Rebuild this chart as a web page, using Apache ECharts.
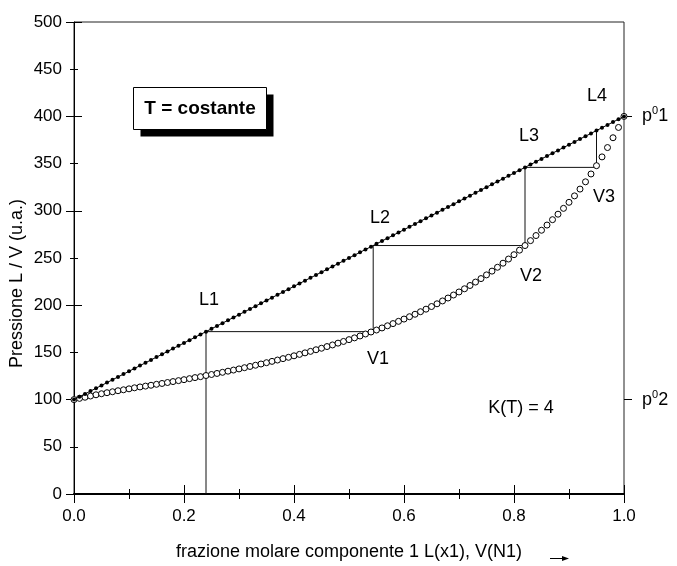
<!DOCTYPE html>
<html>
<head>
<meta charset="utf-8">
<script src="https://cdn.jsdelivr.net/npm/echarts@6/dist/echarts.min.js"></script>
<style>html,body{margin:0;padding:0;background:#fff}#c{width:677px;height:566px}</style>
</head>
<body>
<div id="c"></div>
<script>
// molar fraction grid (x axis values)
const xFrac = [0,0.01,0.02,0.03,0.04,0.05,0.06,0.07,0.08,0.09,0.10,0.11,0.12,0.13,0.14,0.15,0.16,0.17,0.18,0.19,0.20,0.21,0.22,0.23,0.24,0.25,0.26,0.27,0.28,0.29,0.30,0.31,0.32,0.33,0.34,0.35,0.36,0.37,0.38,0.39,0.40,0.41,0.42,0.43,0.44,0.45,0.46,0.47,0.48,0.49,0.50,0.51,0.52,0.53,0.54,0.55,0.56,0.57,0.58,0.59,0.60,0.61,0.62,0.63,0.64,0.65,0.66,0.67,0.68,0.69,0.70,0.71,0.72,0.73,0.74,0.75,0.76,0.77,0.78,0.79,0.80,0.81,0.82,0.83,0.84,0.85,0.86,0.87,0.88,0.89,0.90,0.91,0.92,0.93,0.94,0.95,0.96,0.97,0.98,0.99,1.00];
// liquid (bubble) line pressure
const liquidP = [100,103,106,109,112,115,118,121,124,127,130,133,136,139,142,145,148,151,154,157,160,163,166,169,172,175,178,181,184,187,190,193,196,199,202,205,208,211,214,217,220,223,226,229,232,235,238,241,244,247,250,253,256,259,262,265,268,271,274,277,280,283,286,289,292,295,298,301,304,307,310,313,316,319,322,325,328,331,334,337,340,343,346,349,352,355,358,361,364,367,370,373,376,379,382,385,388,391,394,397,400];
// vapour (dew) curve pressure
const vaporP = [100.0,101.3,102.5,103.8,105.1,106.2,107.3,108.3,109.4,110.4,111.4,112.5,113.4,114.3,115.2,116.2,117.1,118.1,119.1,120.1,121.1,122.2,123.3,124.3,125.5,126.6,127.7,128.9,130.1,131.3,132.5,133.8,135.1,136.4,137.7,139.1,140.5,141.9,143.4,144.8,146.4,147.9,149.5,151.1,152.8,154.4,156.2,157.9,159.8,161.6,163.5,165.4,167.4,169.5,171.6,173.7,175.9,178.2,180.5,182.9,185.3,187.8,190.4,193.1,195.8,198.6,201.5,204.5,207.6,210.8,214.0,217.4,220.9,224.5,228.2,232.1,236.1,240.2,244.5,248.9,253.5,258.3,263.2,268.4,273.8,279.4,284.9,290.6,296.4,302.6,309.0,315.8,323.0,330.7,339.0,347.8,357.1,367.0,377.4,388.3,400.0];
// staircase construction
const stairX = [0.24,0.24,0.544,0.544,0.82,0.82,0.95,0.95];
const stairP = [0,172,172,263.2,263.2,346,346,385];
// right axis reference pressures
const pureP = [100,400];
const pureLabels = ['p{s|0}2','p{s|0}1'];

const FONT = 'Liberation Sans, Arial, sans-serif';
const liquid = xFrac.map((x,i)=>[x, liquidP[i]]);
const vapor = xFrac.map((x,i)=>[x, vaporP[i]]);
const stairs = stairX.map((x,i)=>[x, stairP[i]]);

const chart = echarts.init(document.getElementById('c'), null, {renderer:'canvas'});
const baseY = {type:'value', min:0, max:500, splitLine:{show:false}, axisLine:{show:false}, axisLabel:{show:false}, axisTick:{show:false}};
const T = (txt, x, y, size, extra) => Object.assign({type:'text', x:x, y:y,
  style:{text:txt, font:(size||18)+'px '+FONT, fill:'#000', align:'center', verticalAlign:'middle'}}, extra||{});
chart.setOption({
  animation:false,
  backgroundColor:'#fff',
  grid:{left:74, top:22, width:550, height:475, show:true, borderColor:'#222', borderWidth:1, backgroundColor:'transparent'},
  xAxis:[
    {type:'value', min:0, max:1, interval:0.2, position:'bottom',
     axisLine:{show:true, lineStyle:{color:'#000', width:2}},
     axisTick:{show:true, inside:false, length:9, lineStyle:{color:'#000', width:1}},
     minorTick:{show:true, splitNumber:2, length:5, lineStyle:{color:'#000', width:1}},
     splitLine:{show:false}, minorSplitLine:{show:false},
     axisLabel:{color:'#000', fontFamily:FONT, fontSize:17, margin:14, formatter:v=>v.toFixed(1)},
     name:'frazione molare componente 1 L(x1), V(N1)', nameLocation:'middle', nameGap:49,
     nameTextStyle:{color:'#000', fontFamily:FONT, fontSize:18}},
    {type:'value', min:0, max:1, interval:0.2, position:'bottom',
     axisLine:{show:false},
     axisTick:{show:true, inside:true, length:9, lineStyle:{color:'#000', width:1}},
     minorTick:{show:true, splitNumber:2, length:5, lineStyle:{color:'#000', width:1}},
     splitLine:{show:false}, axisLabel:{show:false}}
  ],
  yAxis:[
    Object.assign({}, baseY, {position:'left', interval:100,
      axisLine:{show:true, lineStyle:{color:'#000', width:1}},
      axisTick:{show:true, inside:false, length:8, lineStyle:{color:'#000'}},
      minorTick:{show:true, splitNumber:2, length:4, lineStyle:{color:'#000'}}}),
    Object.assign({}, baseY, {position:'left', interval:100,
      axisTick:{show:true, inside:true, length:8, lineStyle:{color:'#000'}},
      minorTick:{show:true, splitNumber:2, length:4, lineStyle:{color:'#000'}}}),
    Object.assign({}, baseY, {position:'left', interval:50,
      axisLabel:{show:true, color:'#000', fontFamily:FONT, fontSize:17, margin:12}}),
    Object.assign({}, baseY, {position:'right',
      axisTick:{show:true, inside:false, length:8, customValues:pureP, lineStyle:{color:'#000'}},
      axisLabel:{show:true, customValues:pureP, margin:18, color:'#000', fontFamily:FONT, fontSize:18,
        formatter:v=>pureLabels[pureP.indexOf(v)],
        rich:{s:{fontSize:11, fontFamily:FONT, color:'#000', verticalAlign:'top', padding:[0,0,10,0]}}}})
  ],
  series:[
    {type:'line', data:stairs, showSymbol:false, symbol:'none', z:1,
     lineStyle:{color:'#111', width:1}, silent:true},
    {type:'line', data:vapor, symbol:'circle', symbolSize:6, z:3,
     itemStyle:{color:'#fff', borderColor:'#000', borderWidth:1},
     lineStyle:{width:0, opacity:0}, silent:true},
    {type:'line', data:liquid, symbol:'circle', symbolSize:4, z:4,
     itemStyle:{color:'#000', borderWidth:0},
     lineStyle:{color:'#000', width:1}, silent:true}
  ],
  graphic:[
    T('Pressione L / V (u.a.)', 17.5, 283.5, 18, {rotation:Math.PI/2}),
    {type:'rect', shape:{x:140.5, y:94.5, width:133, height:42}, style:{fill:'#000'}},
    {type:'rect', shape:{x:133.5, y:87.5, width:133, height:42}, style:{fill:'#fff', stroke:'#000', lineWidth:1}},
    {type:'text', x:200, y:108.5, style:{text:'T = costante', font:'bold 19px '+FONT, fill:'#000', align:'center', verticalAlign:'middle'}},
    T('L1', 209, 300), T('L2', 380, 218), T('L3', 529, 136), T('L4', 597, 96),
    T('V1', 378, 359), T('V2', 531, 276), T('V3', 604, 197),
    T('K(T) = 4', 521, 408),
    {type:'line', shape:{x1:550, y1:558.5, x2:564, y2:558.5}, style:{stroke:'#000', lineWidth:1}},
    {type:'polygon', shape:{points:[[562,556],[569,558.5],[562,561]]}, style:{fill:'#000'}}
  ]
});
</script>
</body>
</html>
